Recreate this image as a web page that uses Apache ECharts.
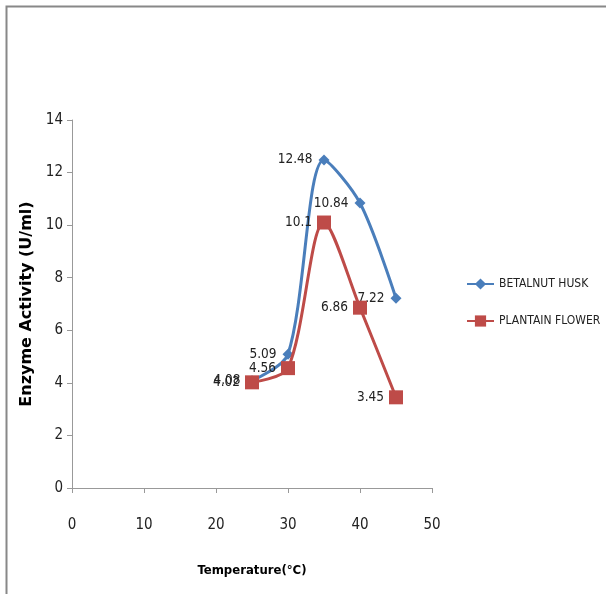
<!DOCTYPE html>
<html><head><meta charset="utf-8">
<script src="https://cdn.jsdelivr.net/npm/echarts@6/dist/echarts.min.js"></script>
<style>html,body{margin:0;padding:0;background:#fff}#c{width:606px;height:594px}</style>
</head><body><div id="c"></div>
<script>
var temperatures = [25, 30, 35, 40, 45];
var betalnutHusk = [4.08, 5.09, 12.48, 10.84, 7.22];
var plantainFlower = [4.02, 4.56, 10.1, 6.86, 3.45];
var seriesNames = ['BETALNUT HUSK', 'PLANTAIN FLOWER'];
var xTitle = 'Temperature(°C)';
var yTitle = 'Enzyme Activity (U/ml)';

var FONT = "'DejaVu Sans Condensed', 'Liberation Sans Narrow', sans-serif";

function pts(vals) {
  return temperatures.map(function (t, i) { return [t, vals[i]]; });
}

var chart = echarts.init(document.getElementById('c'), null, { renderer: 'canvas' });
chart.setOption({
  backgroundColor: '#fff',
  animation: false,
  graphic: [{
    type: 'rect', left: 4, top: 4,
    shape: { width: 700, height: 700 },
    style: { fill: 'none', stroke: '#888', lineWidth: 2 }
  }],
  grid: { left: 72, right: 174, top: 120, bottom: 106 },
  xAxis: {
    type: 'value', min: 0, max: 50, interval: 10,
    name: xTitle, nameLocation: 'middle', nameGap: 76,
    nameTextStyle: { fontFamily: FONT, fontSize: 13, fontWeight: 'bold', color: '#000' },
    axisLine: { show: true, onZero: false, lineStyle: { color: '#999', width: 1 } },
    axisTick: { show: true, length: 5, lineStyle: { color: '#999' } },
    axisLabel: { fontFamily: FONT, fontSize: 15, color: '#222', margin: 30 },
    splitLine: { show: false }
  },
  yAxis: {
    type: 'value', min: 0, max: 14, interval: 2,
    name: yTitle, nameLocation: 'middle', nameGap: 27, nameRotate: 90,
    nameTextStyle: { fontFamily: "'DejaVu Sans', sans-serif", fontSize: 16, fontWeight: 'bold', color: '#000' },
    axisLine: { show: true, lineStyle: { color: '#999', width: 1 } },
    axisTick: { show: true, length: 5, lineStyle: { color: '#999' } },
    axisLabel: { fontFamily: FONT, fontSize: 15, color: '#222', margin: 9 },
    splitLine: { show: false }
  },
  legend: {
    orient: 'vertical', left: 461, top: 273, itemGap: 25,
    itemWidth: 27, itemHeight: 14,
    textStyle: { fontFamily: FONT, fontSize: 12, color: '#222' },
    data: seriesNames
  },
  series: [{
    name: seriesNames[0], type: 'line', smooth: 0.3,
    data: pts(betalnutHusk),
    symbol: 'diamond', symbolSize: 11,
    lineStyle: { color: '#4A7EBB', width: 3 },
    itemStyle: { color: '#4A7EBB' },
    label: { show: true, position: 'left', distance: 6, fontFamily: FONT, fontSize: 13.5, color: '#222' },
    z: 2
  }, {
    name: seriesNames[1], type: 'line', smooth: 0.3,
    data: pts(plantainFlower),
    symbol: 'rect', symbolSize: 14,
    lineStyle: { color: '#BE4B48', width: 3 },
    itemStyle: { color: '#BE4B48' },
    label: { show: true, position: 'left', distance: 5, fontFamily: FONT, fontSize: 13.5, color: '#222' },
    z: 3
  }]
});
</script></body></html>
